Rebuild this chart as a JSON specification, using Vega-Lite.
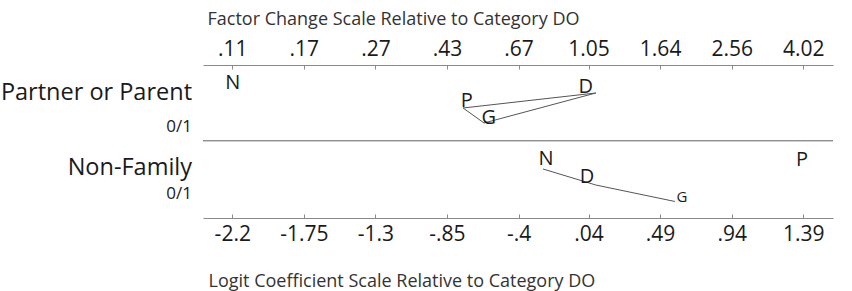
{
  "$schema": "https://vega.github.io/schema/vega-lite/v6.json",
  "width": 630,
  "height": 153,
  "autosize": {"type": "none"},
  "padding": {"left": 203, "top": 65, "right": 19, "bottom": 73},
  "background": "white",
  "config": {
    "view": {"stroke": null},
    "font": "Open Sans",
    "text": {"font": "Open Sans"}
  },
  "datasets": {
    "letters": [
      {"row": "Partner or Parent", "letter": "N", "logit": -2.197, "pos": 0.235},
      {"row": "Partner or Parent", "letter": "D", "logit": 0.023, "pos": 0.288},
      {"row": "Partner or Parent", "letter": "P", "logit": -0.725, "pos": 0.471},
      {"row": "Partner or Parent", "letter": "G", "logit": -0.587, "pos": 0.693},
      {"row": "Non-Family", "letter": "N", "logit": -0.228, "pos": 1.229},
      {"row": "Non-Family", "letter": "D", "logit": 0.03, "pos": 1.464},
      {"row": "Non-Family", "letter": "G", "logit": 0.627, "pos": 1.725},
      {"row": "Non-Family", "letter": "P", "logit": 1.382, "pos": 1.242}
    ],
    "paths": [
      {"row": "Partner or Parent", "step": 1, "logit": -0.749, "pos": 0.562},
      {"row": "Partner or Parent", "step": 2, "logit": 0.086, "pos": 0.366},
      {"row": "Partner or Parent", "step": 3, "logit": -0.617, "pos": 0.758},
      {"row": "Partner or Parent", "step": 4, "logit": -0.749, "pos": 0.562},
      {"row": "Non-Family", "step": 1, "logit": -0.247, "pos": 1.359},
      {"row": "Non-Family", "step": 2, "logit": 0.086, "pos": 1.569},
      {"row": "Non-Family", "step": 3, "logit": 0.583, "pos": 1.784}
    ],
    "rows": [
      {"label": "Partner or Parent", "sub": "0/1", "at": -2.453, "pos": 0.458, "subpos": 0.876},
      {"label": "Non-Family", "sub": "0/1", "at": -2.453, "pos": 1.438, "subpos": 1.752}
    ]
  },
  "resolve": {"axis": {"x": "independent"}},
  "layer": [
    {
      "data": {"name": "rows"},
      "mark": {"type": "rule", "color": "#8a8a8a", "strokeWidth": 1},
      "encoding": {
        "y": {"datum": 0.99, "type": "quantitative", "scale": {"domain": [0, 2], "reverse": true, "nice": false, "zero": false}, "axis": null}
      }
    },
    {
      "data": {"name": "paths"},
      "mark": {"type": "line", "color": "#555555", "strokeWidth": 1},
      "encoding": {
        "x": {
          "field": "logit", "type": "quantitative",
          "scale": {"domain": [-2.384, 1.577], "nice": false, "zero": false},
          "axis": {
            "orient": "bottom",
            "values": [-2.2, -1.75, -1.3, -0.85, -0.4, 0.04, 0.49, 0.94, 1.39],
            "labelExpr": "replace(toString(datum.value), '0.', '.')",
            "grid": false,
            "domainColor": "#8a8a8a",
            "domainWidth": 1,
            "tickColor": "#8a8a8a",
            "tickSize": -4,
            "labelPadding": 9,
            "labelFontSize": 21,
            "labelColor": "#1a1a1a",
            "labelFont": "Open Sans",
            "title": "Logit Coefficient Scale Relative to Category DO",
            "titleFont": "Open Sans",
            "titleFontSize": 18,
            "titleFontWeight": "normal",
            "titleColor": "#333333",
            "titleAlign": "left",
            "titleAnchor": "start",
            "titleX": 5,
            "titleY": 68,
            "titleBaseline": "alphabetic"
          }
        },
        "y": {"field": "pos", "type": "quantitative", "scale": {"domain": [0, 2], "reverse": true, "nice": false, "zero": false}, "axis": null},
        "detail": {"field": "row"},
        "order": {"field": "step"}
      }
    },
    {
      "data": {"name": "letters"},
      "mark": {"type": "text", "color": "#1a1a1a", "align": "center", "baseline": "middle"},
      "encoding": {
        "x": {
          "field": "logit", "type": "quantitative",
          "scale": {"domain": [-2.384, 1.577], "nice": false, "zero": false},
          "axis": {
            "orient": "top",
            "values": [-2.2, -1.75, -1.3, -0.85, -0.4, 0.04, 0.49, 0.94, 1.39],
            "labelExpr": "datum.value < -2 ? '.11' : datum.value < -1.5 ? '.17' : datum.value < -1 ? '.27' : datum.value < -0.6 ? '.43' : datum.value < -0.2 ? '.67' : datum.value < 0.2 ? '1.05' : datum.value < 0.7 ? '1.64' : datum.value < 1.2 ? '2.56' : '4.02'",
            "grid": false,
            "domainColor": "#8a8a8a",
            "domainWidth": 1,
            "tickColor": "#8a8a8a",
            "tickSize": -4,
            "labelPadding": 10,
            "labelFontSize": 21,
            "labelColor": "#1a1a1a",
            "labelFont": "Open Sans",
            "title": "Factor Change Scale Relative to Category DO",
            "titleFont": "Open Sans",
            "titleFontSize": 18,
            "titleFontWeight": "normal",
            "titleColor": "#333333",
            "titleAlign": "left",
            "titleAnchor": "start",
            "titleX": 4,
            "titleY": -41,
            "titleBaseline": "alphabetic"
          }
        },
        "y": {"field": "pos", "type": "quantitative", "scale": {"domain": [0, 2], "reverse": true, "nice": false, "zero": false}, "axis": null},
        "text": {"field": "letter"},
        "size": {"condition": {"test": "datum.row === 'Non-Family' && datum.letter === 'G'", "value": 15}, "value": 20}
      }
    },
    {
      "data": {"name": "rows"},
      "mark": {"type": "text", "fontSize": 23.5, "color": "#1a1a1a", "align": "right", "baseline": "alphabetic"},
      "encoding": {
        "x": {"field": "at", "type": "quantitative", "scale": {"domain": [-2.384, 1.577], "nice": false, "zero": false}, "axis": null},
        "y": {"field": "pos", "type": "quantitative", "scale": {"domain": [0, 2], "reverse": true, "nice": false, "zero": false}, "axis": null},
        "text": {"field": "label"}
      }
    },
    {
      "data": {"name": "rows"},
      "mark": {"type": "text", "fontSize": 17, "color": "#1a1a1a", "align": "right", "baseline": "alphabetic"},
      "encoding": {
        "x": {"field": "at", "type": "quantitative", "scale": {"domain": [-2.384, 1.577], "nice": false, "zero": false}, "axis": null},
        "y": {"field": "subpos", "type": "quantitative", "scale": {"domain": [0, 2], "reverse": true, "nice": false, "zero": false}, "axis": null},
        "text": {"field": "sub"}
      }
    }
  ]
}
